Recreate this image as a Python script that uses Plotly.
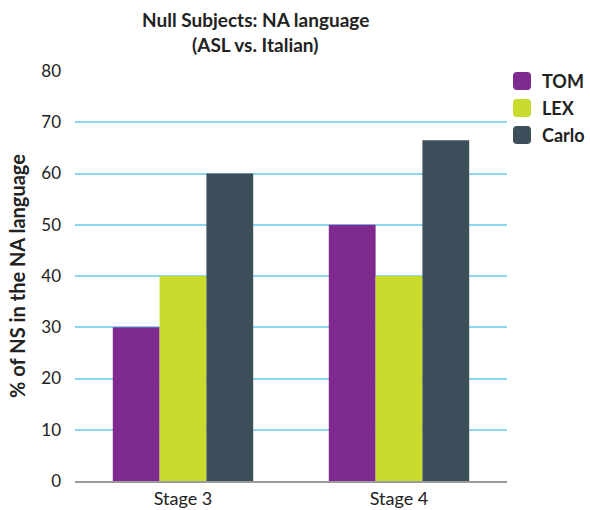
import plotly.graph_objects as go

categories = ["Stage 3", "Stage 4"]
series_names = ["TOM", "LEX", "Carlo"]
tom = [30, 50]
lex = [40, 40]
carlo = [60, 66.5]
colors = ["#7E2A8E", "#C9DB2C", "#3D4F5A"]
y_ticks = [0, 10, 20, 30, 40, 50, 60, 70, 80]
title_line1 = "Null Subjects: NA language"
title_line2 = "(ASL vs. Italian)"
y_title = "% of NS in the NA language"

FONT = "Lato"
TXT = "#222222"
W, H = 590, 510
ML, MR, MT, MB = 75, 83, 71, 29
PW, PH = W - ML - MR, H - MT - MB


def px_x(x):
    return (x - ML) / PW


def px_y(y):
    return (H - MB - y) / PH


fig = go.Figure()
for name, vals, col in zip(series_names, [tom, lex, carlo], colors):
    fig.add_trace(go.Bar(x=categories, y=vals, name=name, marker_color=col,
                         marker_line_width=0, showlegend=False))

# legend drawn as rounded squares + labels
shapes = []
annotations = []
for i, (name, col) in enumerate(zip(series_names, colors)):
    cy = 81 + 27 * i
    x0, x1 = px_x(513), px_x(531)
    y0, y1 = px_y(cy + 9), px_y(cy - 9)
    rx, ry = 4 / PW, 4 / PH
    path = (f"M {x0+rx},{y0} L {x1-rx},{y0} Q {x1},{y0} {x1},{y0+ry} "
            f"L {x1},{y1-ry} Q {x1},{y1} {x1-rx},{y1} L {x0+rx},{y1} "
            f"Q {x0},{y1} {x0},{y1-ry} L {x0},{y0+ry} Q {x0},{y0} {x0+rx},{y0} Z")
    shapes.append(dict(type="path", path=path, xref="paper", yref="paper",
                       fillcolor=col, line=dict(width=0)))
    annotations.append(dict(text="<b>" + name + "</b>", xref="paper", yref="paper",
                            x=px_x(540), y=px_y(cy), xanchor="left", yanchor="middle",
                            showarrow=False, font=dict(size=18, family=FONT, color=TXT)))

annotations.append(dict(text="<b>" + title_line1 + "</b>", xref="paper", yref="paper",
                        x=px_x(255), y=px_y(19), xanchor="center", yanchor="middle",
                        showarrow=False, font=dict(size=19, family=FONT, color=TXT)))
annotations.append(dict(text="<b>" + title_line2 + "</b>", xref="paper", yref="paper",
                        x=px_x(255), y=px_y(45), xanchor="center", yanchor="middle",
                        showarrow=False, font=dict(size=19, family=FONT, color=TXT)))

fig.update_layout(
    width=W, height=H,
    margin=dict(l=ML, r=MR, t=MT, b=MB, autoexpand=False),
    paper_bgcolor="white", plot_bgcolor="white",
    barmode="group", bargap=0.35, bargroupgap=0,
    font=dict(family=FONT, color=TXT),
    showlegend=False,
    shapes=shapes,
    annotations=annotations,
    xaxis=dict(showline=True, linecolor="#9a9a9a", linewidth=2, ticks="",
               automargin=False, ticklabelstandoff=0,
               tickfont=dict(size=18, family=FONT, color=TXT), showgrid=False),
    yaxis=dict(range=[0, 80], tickvals=y_ticks, showgrid=True, gridcolor="#8ed6f2",
               gridwidth=1.5, zeroline=False, ticks="", ticklen=0, ticklabelstandoff=13,
               automargin=False,
               tickfont=dict(size=17, family=FONT, color=TXT),
               title=dict(text="<b>" + y_title + "</b>",
                          font=dict(size=20, family=FONT, color=TXT), standoff=10)),
)
fig.write_html("out.html", config={"displayModeBar": False},
               post_script="document.body.style.margin='0';")
